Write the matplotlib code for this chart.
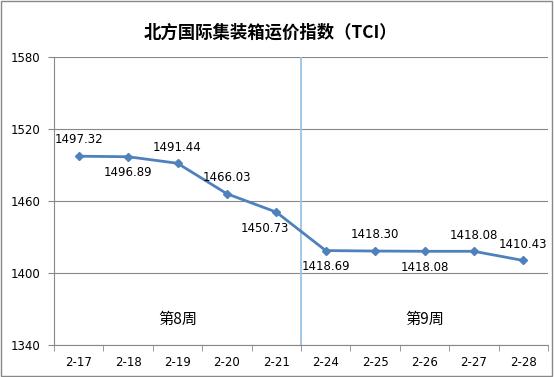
import matplotlib.pyplot as plt

plt.rcParams['font.family'] = ['Noto Sans CJK SC', 'DejaVu Sans']

# 数据
dates = ['2-17', '2-18', '2-19', '2-20', '2-21', '2-24', '2-25', '2-26', '2-27', '2-28']
tci = [1497.32, 1496.89, 1491.44, 1466.03, 1450.73, 1418.69, 1418.30, 1418.08, 1418.08, 1410.43]
label_pos = ['a', 'b', 'a', 'a', 'bl', 'b', 'a', 'b', 'a', 'a']
week_labels = ['第8周', '第9周']
week_x = [2, 7]
week_y = 1361

fig = plt.figure(figsize=(5.54, 3.77), dpi=100)
ax = fig.add_axes([54 / 554, 32 / 377, 494 / 554, 288 / 377])

x = list(range(len(dates)))
ax.plot(x, tci, color='#4F81BD', linewidth=2, marker='D', markersize=4, zorder=3)

offsets = {'a': (0, 7, 'center', 'bottom'), 'b': (0, -7, 'center', 'top'),
           'bl': (-8, -7, 'center', 'top')}
for xi, v, p in zip(x, tci, label_pos):
    dx, dy, ha, va = offsets[p]
    ax.annotate(f'{v:.2f}', (xi, v), xytext=(dx, dy), textcoords='offset points',
                ha=ha, va=va, fontsize=8.5, family='DejaVu Sans')

for wx, wl in zip(week_x, week_labels):
    ax.text(wx, week_y, wl, ha='center', va='center', fontsize=11)

ax.axvline(4.5, color='#9DC3E6', linewidth=1.3)

ax.set_xlim(-0.5, len(dates) - 0.5)
ax.set_ylim(1340, 1580)
ax.set_yticks([1340, 1400, 1460, 1520, 1580])
ax.set_xticks(x)
ax.set_xticklabels(dates, fontsize=8.5, family='DejaVu Sans')
ax.set_xticks([i + 0.5 for i in range(-1, len(dates))], minor=True)
ax.tick_params(axis='x', which='major', length=0, pad=8)
ax.tick_params(axis='x', which='minor', length=4, color='#888888')
ax.tick_params(axis='y', length=4, color='#888888', labelsize=8.5, pad=6)
for lbl in ax.get_yticklabels():
    lbl.set_family('DejaVu Sans')
ax.grid(axis='y', color='#888888', linewidth=0.8)
ax.set_axisbelow(True)
for s in ['top', 'right']:
    ax.spines[s].set_visible(False)
ax.spines['left'].set_color('#888888')
ax.spines['bottom'].set_color('#888888')

fig.text(270 / 554, 1 - 33 / 377, '北方国际集装箱运价指数（TCI）', ha='center', va='center',
         fontsize=12.5, fontweight='bold')

fig.patches.append(plt.Rectangle((0.002, 0.003), 0.995, 0.994, transform=fig.transFigure,
                                 fill=False, edgecolor='#888888', linewidth=1))

fig.savefig('out.png', dpi=100)
